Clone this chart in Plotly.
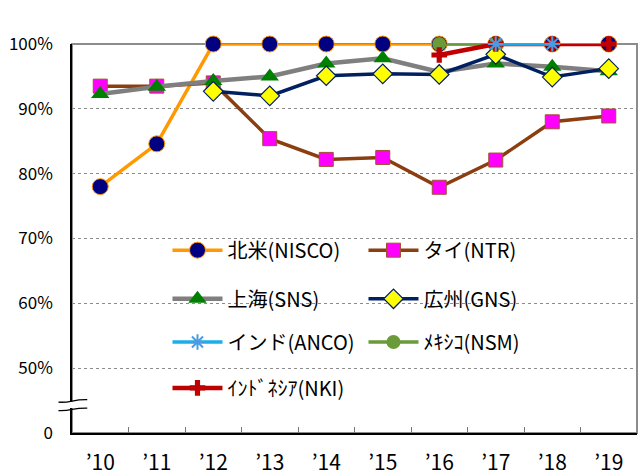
import plotly.graph_objects as go

years = ["’10", "’11", "’12", "’13", "’14", "’15", "’16", "’17", "’18", "’19"]
nisco = [78.0, 84.6, 100, 100, 100, 100, 100, 100, 100, 100]
ntr = [93.5, 93.5, 94.0, 85.4, 82.2, 82.5, 77.9, 82.1, 88.0, 88.9]
sns = [92.3, 93.4, 94.3, 95.0, 97.0, 97.8, 95.7, 97.0, 96.5, 95.8]
gns = [None, None, 92.7, 92.0, 95.1, 95.4, 95.3, 98.4, 94.9, 96.2]
nsm = [None, None, None, None, None, None, 100, 100, None, None]
anco = [None, None, None, None, None, None, None, 100, 100, None]
nki = [None, None, None, None, None, None, 98.3, 100, 100, 100]

y_ticks = [40, 50, 60, 70, 80, 90, 100]
y_labels = ["0", "50%", "60%", "70%", "80%", "90%", "100%"]

FONT = "Noto Sans CJK JP"

# drawing order (bottom to top); legend order is set by legendrank
series = [
    ("北米(NISCO)", nisco, "#FF9900", 3.5,
     dict(symbol="circle", size=16, color="#000080", line=dict(color="#FF9900", width=1)), "legend", 1),
    ("タイ(NTR)", ntr, "#8B3E10", 3.5,
     dict(symbol="square", size=14, color="#FF00FF", line=dict(color="#A0522D", width=1)), "legend", 2),
    ("上海(SNS)", sns, "#7F7F7F", 4.5,
     dict(symbol="triangle-up", size=16, color="#008000", line=dict(color="#008000", width=0)), "legend2", 3),
    ("広州(GNS)", gns, "#002060", 3.5,
     dict(symbol="diamond", size=15, color="#FFFF00", line=dict(color="#002060", width=1.2)), "legend2", 4),
    ("ﾒｷｼｺ(NSM)", nsm, "#6A9A3A", 3.5,
     dict(symbol="circle", size=14, color="#6A9A3A", line=dict(color="#6A9A3A", width=0)), "legend3", 6),
    ("ｲﾝﾄﾞﾈｼｱ(NKI)", nki, "#C00000", 4.5,
     dict(symbol="cross", size=13, color="#C00000", line=dict(color="#C00000", width=0)), "legend4", 7),
    ("インド(ANCO)", anco, "#1AAEEA", 3.5,
     dict(symbol="asterisk-open", size=13, color="#4A9BE0", line=dict(color="#4A9BE0", width=2)), "legend3", 5),
]

fig = go.Figure()
for name, data, lc, lw, mk, lg, rank in series:
    fig.add_trace(go.Scatter(
        x=years, y=data, name=name, mode="lines+markers",
        line=dict(color=lc, width=lw), marker=mk,
        cliponaxis=False, legend=lg, legendrank=rank,
    ))

# plot frame (top/right borders gray)
fig.add_shape(type="rect", xref="paper", yref="paper", x0=0, x1=1, y0=0, y1=1,
              line=dict(color="#8C8C8C", width=2), layer="between")

# axis break marks on the left axis
fig.add_shape(type="rect", xref="paper", yref="y", x0=-0.006, x1=0.006, y0=43.85, y1=44.85,
              fillcolor="white", line=dict(width=0), layer="above")
for yb in (45.0, 43.7):
    fig.add_shape(type="path", xref="paper", yref="y",
                  path=f"M -0.024,{yb - 0.25} C 0.0,{yb - 0.35} 0.0,{yb + 0.2} 0.027,{yb + 0.15}",
                  line=dict(color="black", width=1.3), layer="above")

leg_common = dict(orientation="h", xanchor="left", yanchor="middle",
                  font=dict(family=FONT, size=20, color="black"),
                  bgcolor="rgba(0,0,0,0)", itemwidth=50, entrywidth=131,
                  itemclick=False, itemdoubleclick=False)

fig.update_layout(
    width=642, height=475,
    margin=dict(l=72, r=5, t=44, b=42, autoexpand=False),
    paper_bgcolor="white", plot_bgcolor="white",
    font=dict(family=FONT, color="black"),
    legend=dict(x=0.169, y=0.47, **leg_common),
    legend2=dict(x=0.169, y=0.345, **leg_common),
    legend3=dict(x=0.169, y=0.234, **leg_common),
    legend4=dict(x=0.169, y=0.116, **leg_common),
    xaxis=dict(
        type="category", range=[-0.5, 9.5], automargin=False,
        showline=True, linecolor="black", linewidth=1.5,
        ticks="inside", tickson="boundaries", ticklen=6, tickcolor="#777777",
        tickfont=dict(family=FONT, size=21, color="black"),
        ticklabelstandoff=10, showgrid=False, zeroline=False,
    ),
    yaxis=dict(
        range=[40, 100], tickvals=y_ticks, ticktext=y_labels, automargin=False,
        showline=True, linecolor="black", linewidth=1.5,
        ticks="", tickfont=dict(family=FONT, size=17, color="black"),
        ticklabelstandoff=14,
        showgrid=True, gridcolor="#8C8C8C", griddash="dot", gridwidth=1,
        zeroline=False,
    ),
)

fig.write_html("out.html", config={"displayModeBar": False},
               post_script="document.body.style.margin='0px';document.body.style.overflow='hidden';")
